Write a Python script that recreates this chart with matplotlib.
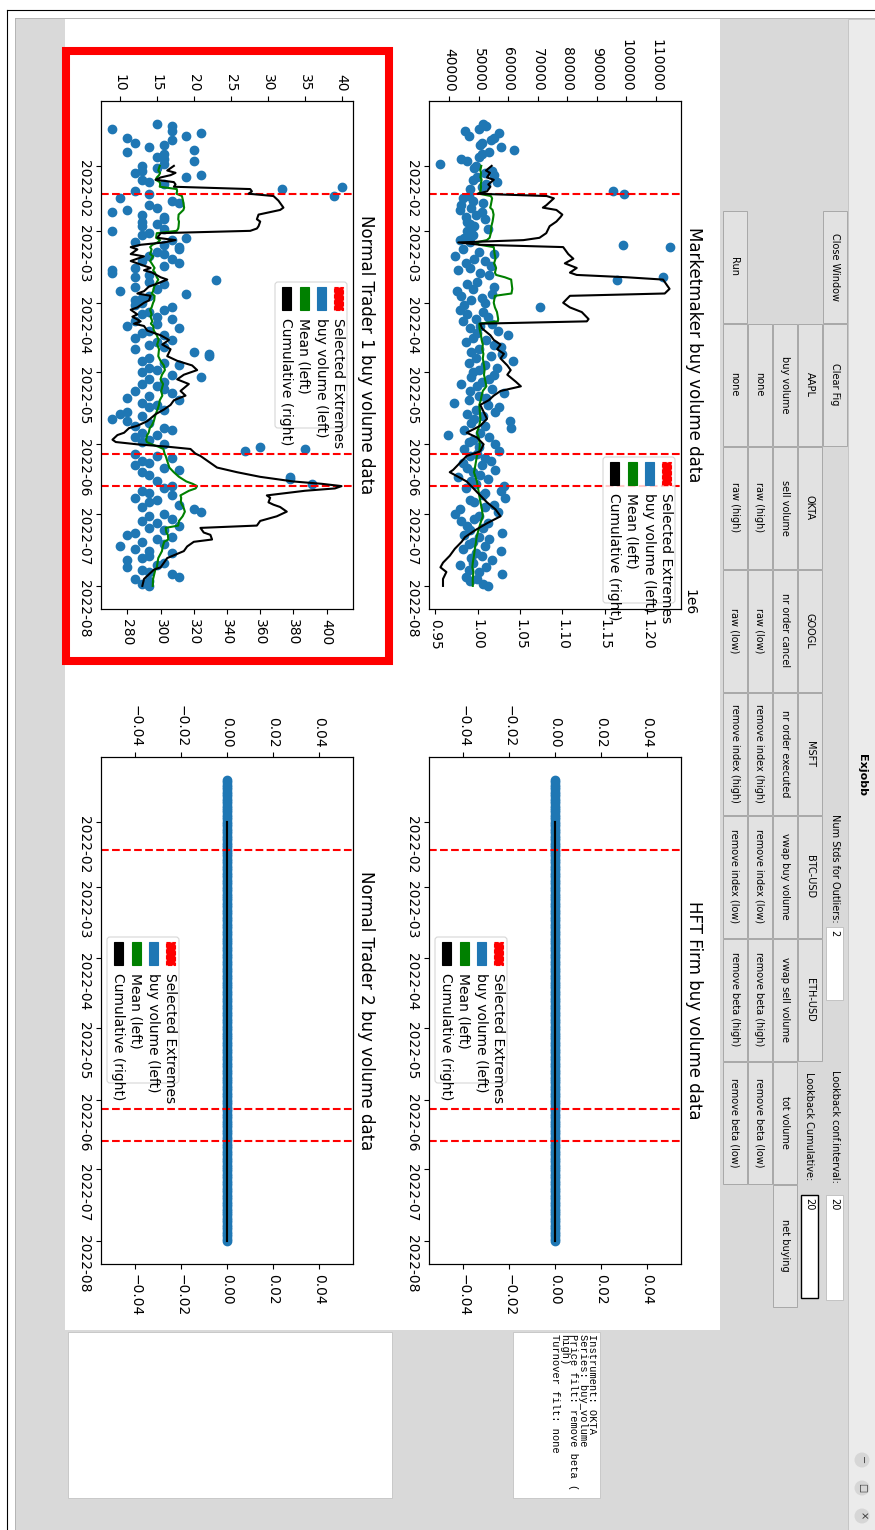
import numpy as np
import pandas as pd
import matplotlib
matplotlib.use("Agg")
import matplotlib.pyplot as plt
import matplotlib.dates as mdates
from matplotlib.patches import Rectangle, FancyBboxPatch, Circle
from matplotlib.ticker import MaxNLocator

W, H, DPI = 875, 1530, 100

# ---------------------------------------------------------------- data
days = pd.date_range("2022-01-14", "2022-08-01", freq="D")

marketmaker_buy = [
    51500, 52500, 50000, 45300, 57000, 46500, 55000, 54000, 51000, 50500, 57500, 62000, 53500, 51000, 50000, 44000, 46000, 37000,
    49000, 48500, 54500, 52000, 55000, 49500, 48000, 56000, 52500, 51000, 47000, 95500, 99200, 46500, 44800, 48000, 51500, 44000,
    47500, 43500, 51000, 49000, 45500, 52000, 46000, 47000, 48500, 53000,
    46000, 47500, 48000, 45000, 43500, 47000, 98700, 114600, 44500, 50000, 55000, 42000, 48500, 52000, 45500, 54000, 47000, 43000,
    50500, 53500, 112300, 96900, 49500, 46000, 55000, 48000, 42500, 54500, 44000, 51000, 47500,
    52000, 45000, 70700, 43500, 51500, 46000, 53000, 49000, 44500, 54500, 50500, 47000, 56500, 49500, 60000, 48000, 52500, 45500,
    55000, 57500, 50000, 47500, 58000, 54000, 49000, 61500, 46500, 52000, 56000, 50000,
    48000, 55000, 47500, 53500, 51000, 44000, 49500, 54500, 47000, 58500, 50000, 52500, 46500, 41500, 53000, 57000, 49000, 55500,
    46000, 51500, 48500, 60500, 47500, 52000, 61000, 45000, 50500, 39500, 53500, 48000, 46500,
    55500, 50000, 45000, 57000, 49500, 47000, 52000, 54000, 44500, 51000, 46000, 55500, 48000, 50500, 43000, 53000, 47500, 49000,
    58500, 45500, 57500, 52000, 51500, 59000, 47000, 48500, 55000, 52000, 43500, 56500,
    42000, 50000, 48500, 44000, 53000, 46000, 51500, 47000, 58000, 45000, 50000, 53500, 48000, 46500, 52000, 44500, 57500, 49000,
    51000, 47500, 54500, 48000, 43500, 52500, 46500, 50000, 58000, 45500, 49500, 47000, 51500,
    53000,
]

trader1_buy = [
    15, 17, 9, 17, 21, 19, 11, 17, 12, 16, 14, 20, 11, 16, 15, 16, 20, 16,
    13, 15, 13, 12, 21, 19, 13, 14, 16, 40, 32, 12, 14, 39, 10, 17, 18, 14, 15, 11, 9, 13, 16, 16, 13, 15, 13, 16,
    9, 14, 13, 19, 17, 12, 16, 18, 18, 15, 16, 14, 17, 13, 18, 16, 12, 9, 9, 14, 12, 23, 14, 16, 12, 15, 10, 19, 14, 13, 12,
    13, 12, 17, 16, 14, 13, 15, 17, 12, 15, 11, 18, 14, 13, 16, 12, 17, 15, 14, 16, 12, 20, 22, 22, 14, 13, 16, 18, 14, 15,
    13, 17, 21, 14, 16, 13, 15, 16, 12, 17, 14, 11, 18, 13, 15, 14, 16, 11, 10, 13, 9, 11, 14, 12, 16, 17, 13, 15, 12, 14, 13,
    16, 29, 35, 27, 12, 15, 17, 13, 14, 12, 16, 18, 13, 14, 33, 33, 15, 36, 17, 16, 13, 14, 17, 12, 15, 14, 18, 13, 20, 21,
    16, 14, 17, 13, 15, 18, 14, 16, 12, 11, 17, 15, 13, 16, 10, 12, 14, 17, 14, 13, 11, 16, 15, 11, 13, 14, 17, 18, 12, 14, 13,
    14,
]

hft_buy = [0.0] * len(days)
trader2_buy = [0.0] * len(days)

marketmaker_cum_dates = [
    "2022-02-01", "2022-02-03", "2022-02-04", "2022-02-06", "2022-02-07", "2022-02-09", "2022-02-10", "2022-02-12",
    "2022-02-13", "2022-02-14", "2022-02-15", "2022-02-16", "2022-02-18", "2022-02-19", "2022-02-20", "2022-02-22",
    "2022-02-23", "2022-02-25", "2022-02-27", "2022-03-02", "2022-03-04", "2022-03-05", "2022-03-06", "2022-03-07",
    "2022-03-08", "2022-03-11", "2022-03-13", "2022-03-15", "2022-03-17", "2022-03-19", "2022-03-20", "2022-03-21",
    "2022-03-22", "2022-03-26", "2022-03-28", "2022-03-29", "2022-04-01", "2022-04-03", "2022-04-05", "2022-04-08",
    "2022-04-09", "2022-04-10", "2022-04-12", "2022-04-15", "2022-04-17", "2022-04-19", "2022-04-21", "2022-04-23",
    "2022-04-25", "2022-04-28", "2022-04-30", "2022-05-02", "2022-05-05", "2022-05-07", "2022-05-09", "2022-05-11",
    "2022-05-13", "2022-05-15", "2022-05-18", "2022-05-21", "2022-05-24", "2022-05-27", "2022-05-29", "2022-06-01",
    "2022-06-04", "2022-06-06", "2022-06-09", "2022-06-12", "2022-06-13", "2022-06-15", "2022-06-17", "2022-06-20",
    "2022-06-23", "2022-06-26", "2022-06-29", "2022-07-02", "2022-07-05", "2022-07-08", "2022-07-11", "2022-07-13",
    "2022-07-16", "2022-07-19", "2022-07-22", "2022-07-24", "2022-07-26", "2022-07-29", "2022-08-01",
]
marketmaker_cum = [
    1016500, 1009800, 1014500, 1011000, 1019000, 1012500, 1015000, 1011000, 1000000, 1081500, 1090000, 1087000,
    1081000, 1077000, 1093000, 1100000, 1098000, 1093000, 1085000, 1081000, 1073000, 1054000, 977000, 1003000,
    1101000, 1107000, 1113000, 1103000, 1117000, 1109000, 1117000, 1176000, 1219000, 1226700, 1221000, 1109000,
    1101000, 1109000, 1123000, 1131000, 1129000, 1003000, 1005000, 1015000, 1019000, 1027000, 1023000, 1031000,
    1027000, 1035000, 1039000, 1035000, 1045000, 1051000, 1027000, 1019000, 1013000, 1003000, 1007000, 1011000,
    1003000, 987000, 999000, 1007000, 1003000, 987000, 979000, 971000, 967000, 977000, 987000, 995000,
    1003000, 1011000, 1021000, 1027000, 1011000, 997000, 985000, 981000, 973000, 967000, 959000, 956000,
    963000, 959000, 959000,
]

trader1_cum_dates = [
    "2022-02-01", "2022-02-03", "2022-02-04", "2022-02-05", "2022-02-06", "2022-02-07", "2022-02-08", "2022-02-09",
    "2022-02-10", "2022-02-11", "2022-02-12", "2022-02-13", "2022-02-14", "2022-02-16", "2022-02-17", "2022-02-19",
    "2022-02-20", "2022-02-22", "2022-02-24", "2022-02-25", "2022-02-27", "2022-02-28", "2022-03-01", "2022-03-02",
    "2022-03-04", "2022-03-05", "2022-03-06", "2022-03-07", "2022-03-08", "2022-03-09", "2022-03-11", "2022-03-12",
    "2022-03-14", "2022-03-15", "2022-03-17", "2022-03-18", "2022-03-19", "2022-03-21", "2022-03-22", "2022-03-24",
    "2022-03-25", "2022-03-27", "2022-03-28", "2022-03-29", "2022-03-31", "2022-04-01", "2022-04-03", "2022-04-04",
    "2022-04-06", "2022-04-07", "2022-04-09", "2022-04-10", "2022-04-11", "2022-04-13", "2022-04-15", "2022-04-17",
    "2022-04-19", "2022-04-21", "2022-04-24", "2022-04-26", "2022-04-28", "2022-04-30", "2022-05-02", "2022-05-04",
    "2022-05-06", "2022-05-09", "2022-05-11", "2022-05-13", "2022-05-15", "2022-05-17", "2022-05-19", "2022-05-22",
    "2022-05-24", "2022-05-25", "2022-05-27", "2022-05-28", "2022-05-30", "2022-05-31", "2022-06-01", "2022-06-02",
    "2022-06-03", "2022-06-05", "2022-06-06", "2022-06-08", "2022-06-11", "2022-06-13", "2022-06-15", "2022-06-17",
    "2022-06-18", "2022-06-19", "2022-06-20", "2022-06-21", "2022-06-23", "2022-06-24", "2022-06-26", "2022-06-27",
    "2022-06-28", "2022-06-30", "2022-07-02", "2022-07-04", "2022-07-06", "2022-07-07", "2022-07-09", "2022-07-10",
    "2022-07-12", "2022-07-13", "2022-07-15", "2022-07-17", "2022-07-20", "2022-07-22", "2022-07-24", "2022-07-25",
    "2022-07-27", "2022-07-29", "2022-08-01",
]
trader1_cum = [
    308, 304, 309, 306, 300, 297, 308, 309, 308, 354, 355, 353, 368, 371, 372, 374,
    372, 359, 358, 360, 359, 358, 354, 300, 298, 309, 302, 288, 282, 286, 282, 290,
    282, 286, 294, 290, 295, 300, 304, 297, 293, 290, 286, 294, 293, 290, 286, 282,
    286, 283, 288, 284, 290, 292, 300, 305, 301, 306, 304, 310, 319, 322, 314, 310,
    317, 312, 315, 308, 306, 302, 297, 292, 286, 281, 278, 274, 271, 273, 286, 304,
    318, 321, 324, 328, 334, 346, 360, 380, 397, 409, 405, 387, 364, 366, 365, 368,
    372, 376, 370, 360, 358, 324, 326, 330, 331, 320, 316, 314, 304, 302, 300, 296,
    293, 290, 289,
]

flat_cum_dates = ["2022-02-01", "2022-08-01"]
hft_cum = [0.0, 0.0]
trader2_cum = [0.0, 0.0]

extreme_dates = ["2022-02-13", "2022-06-05", "2022-06-19"]
lookback = 20

legend_labels = ["Selected Extremes", "buy volume (left)", "Mean (left)", "Cumulative (right)"]
legend_colors = ["red", "#1f77b4", "green", "black"]

tickers = ["AAPL", "OKTA", "GOOGL", "MSFT", "BTC-USD", "ETH-USD"]
series_names = ["buy volume", "sell volume", "nr order cancel", "nr order executed",
                "vwap buy volume", "vwap sell volume", "tot volume", "net buying"]
filters = ["none", "raw (high)", "raw (low)", "remove index (high)", "remove index (low)",
           "remove beta (high)", "remove beta (low)"]
info_lines = ["Instrument: OKTA", "Series: buy_volume", "Price filt: remove beta (", "high)",
              "Turnover filt: none"]

# ---------------------------------------------------------------- figure
fig = plt.figure(figsize=(W / DPI, H / DPI), dpi=DPI, facecolor="#d9d9d9")


def pixel_axes(zorder):
    a = fig.add_axes([0, 0, 1, 1], zorder=zorder)
    a.set_xlim(0, W)
    a.set_ylim(H, 0)
    a.axis("off")
    return a


bg = pixel_axes(-10)
fg = pixel_axes(10)

# window frame and title bar
bg.add_patch(Rectangle((0, 0), W, 18, facecolor="white", lw=0))
bg.add_patch(Rectangle((0, 0), 15, H, facecolor="white", lw=0))
bg.plot([7, W], [10, 10], color="black", lw=0.8)
bg.plot([7, 7], [10, H], color="black", lw=0.8)
bg.plot([15, W], [18, 18], color="#b4b4b4", lw=0.7)
bg.plot([15, 15], [18, H], color="#b4b4b4", lw=0.7)
bg.add_patch(Rectangle((848, 18.5), W - 848, H, facecolor="#ebebeb", edgecolor="#c6c6c6", lw=0.7))
bg.text(862, 775, "Exjobb", rotation=-90, ha="center", va="center", fontsize=8, fontweight="bold")
for yc, sym in zip([1460, 1488, 1516], ["\u2212", "\u25a1", "\u00d7"]):
    bg.add_patch(Circle((862, yc), 7.5, facecolor="#d6d6d6", lw=0))
    bg.text(862, yc, sym, rotation=-90, ha="center", va="center", fontsize=7, color="#333333")

# figure canvas and the widgets under it
bg.add_patch(Rectangle((65, 18.5), 655, 1311, facecolor="white", lw=0))
bg.add_patch(Rectangle((68, 1332), 324, 166, facecolor="white", edgecolor="#c8c8c8", lw=0.7))
bg.add_patch(Rectangle((513, 1332), 87, 166, facecolor="white", edgecolor="#c8c8c8", lw=0.7))
for i, line in enumerate(info_lines):
    bg.text(592 - 9.3 * i, 1334, line, rotation=-90, ha="center", va="top",
            fontsize=7.5, family="Liberation Mono")

# control panel
ROW_X = [822, 797, 772, 747, 722]
COL_Y = [210, 323, 446, 569, 692, 815, 938, 1061, 1184, 1307]
GUI_FS = 7


def button(row, col, text):
    x0 = ROW_X[row]
    y0, y1 = COL_Y[col], COL_Y[col + 1]
    bg.add_patch(Rectangle((x0 + 0.5, y0 + 0.5), 24.5, y1 - y0 - 1, facecolor="#e2e2e2",
                           edgecolor="#a8a8a8", lw=0.7))
    bg.text(x0 + 12.5, (y0 + y1) / 2, text, rotation=-90, ha="center", va="center", fontsize=GUI_FS)


def label(row, text, y_end):
    bg.text(ROW_X[row] + 12.5, y_end, text, rotation=-90, ha="center", va="bottom", fontsize=GUI_FS)


def entry(row, text, y0, y1, focused=False):
    x0 = ROW_X[row]
    bg.add_patch(Rectangle((x0 + 4, y0), 17, y1 - y0, facecolor="white",
                           edgecolor="black" if focused else "#bdbdbd", lw=1.0 if focused else 0.6))
    bg.text(x0 + 12.5, y0 + 3, text, rotation=-90, ha="center", va="top", fontsize=GUI_FS)


button(0, 0, "Close Window")
button(0, 1, "Clear Fig")
label(0, "Num Stds for Outliers:", 923)
entry(0, "2", 927, 1000)
label(0, "Lookback conf.interval:", 1183)
entry(0, "20", 1195, 1300)
for i, t in enumerate(tickers):
    button(1, i + 1, t)
label(1, "Lookback Cumulative:", 1180)
entry(1, "20", 1195, 1298, focused=True)
for i, t in enumerate(series_names):
    button(2, i + 1, t)
for i, t in enumerate(filters):
    button(3, i + 1, t)
button(4, 0, "Run")
for i, t in enumerate(filters):
    button(4, i + 1, t)


# ---------------------------------------------------------------- charts
def draw_legend(x_right, y_top):
    w, h = 72, 146
    fg.add_patch(FancyBboxPatch((x_right - w, y_top), w, h, boxstyle="round,pad=0,rounding_size=3",
                                facecolor="white", edgecolor="#cccccc", lw=0.8, alpha=0.8))
    for off, text, color in zip([9, 26, 43, 61], legend_labels, legend_colors):
        xc = x_right - off
        fg.add_patch(Rectangle((xc - 4.5, y_top + 5), 9, 23, facecolor=color, edgecolor=color,
                               lw=0.8, ls="--" if text == "Selected Extremes" else "-"))
        fg.text(xc, y_top + 36, text, rotation=-90, ha="center", va="top", fontsize=10)


def draw_panel(box, buy, cum_dates, cum, title, legend_at, offset_label=None):
    x0, y0, x1, y1 = box
    ax = fig.add_axes([x0 / W, 1 - y1 / H, (x1 - x0) / W, (y1 - y0) / H])
    ax2 = ax.twiny()
    when = pd.to_datetime(cum_dates)
    cum = np.asarray(cum, dtype=float)
    ax.scatter(buy, days, color="#1f77b4", s=36)
    # the mean over the lookback window is the rolling sum divided by its length
    ax.plot(cum / lookback, when, color="green", lw=1.5)
    for d in pd.to_datetime(extreme_dates):
        ax.axhline(d, color="red", ls="--", lw=1.5)
    ax2.plot(cum, when, color="black", lw=1.5)
    ax.yaxis.set_major_locator(mdates.MonthLocator())
    ax.yaxis.set_major_formatter(mdates.DateFormatter("%Y-%m"))
    ax.invert_yaxis()
    for a in (ax, ax2):
        a.xaxis.set_major_locator(MaxNLocator(nbins=9, steps=[1, 2, 2.5, 5, 10]))
    ax.xaxis.set_ticks_position("top")
    ax2.xaxis.set_ticks_position("bottom")
    ax.tick_params(labelrotation=-90)
    ax2.tick_params(axis="x", labelrotation=-90)
    ax.annotate(title, xy=(1, 0.5), xycoords="axes fraction", xytext=(6, 0), textcoords="offset points",
                rotation=-90, rotation_mode="anchor", ha="center", va="baseline", fontsize=12)
    if offset_label:
        ax2.xaxis.get_offset_text().set_visible(False)
        ax2.annotate(offset_label, xy=(1, 0), xycoords="axes fraction", xytext=(1, 20),
                     textcoords="offset pixels", rotation=-90, ha="left", va="top", fontsize=10)
    draw_legend(*legend_at)
    return ax, ax2


draw_panel((429, 101, 681, 609), marketmaker_buy, marketmaker_cum_dates, marketmaker_cum,
           "Marketmaker buy volume data", (675, 457), offset_label="1e6")
draw_panel((429, 757, 681, 1264), hft_buy, flat_cum_dates, hft_cum,
           "HFT Firm buy volume data", (507, 937))
draw_panel((101, 101, 353, 609), trader1_buy, trader1_cum_dates, trader1_cum,
           "Normal Trader 1 buy volume data", (347, 282))
draw_panel((101, 757, 353, 1264), trader2_buy, flat_cum_dates, trader2_cum,
           "Normal Trader 2 buy volume data", (179, 937))

# highlight frame around the selected chart
fg.add_patch(Rectangle((66, 51), 323, 610, fill=False, edgecolor="red", lw=5.8))

fig.savefig("out.png", dpi=DPI, facecolor=fig.get_facecolor())
